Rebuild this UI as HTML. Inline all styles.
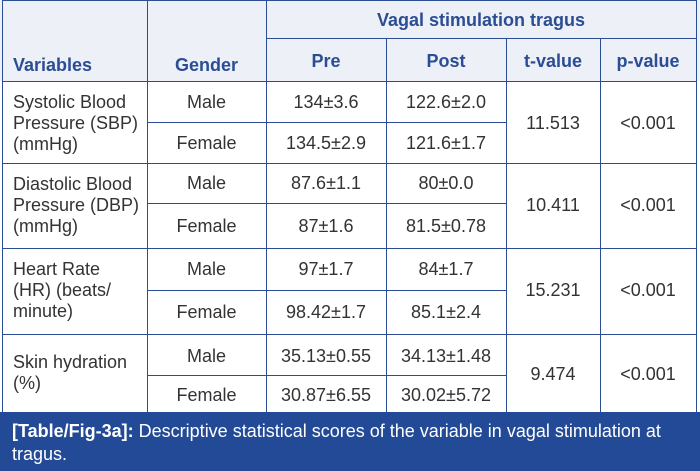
<!DOCTYPE html><html><head><style>
body{margin:0;width:700px;height:471px;background:#fff;position:relative;overflow:hidden;font-family:"Liberation Sans",Arial,sans-serif;}
.h{position:absolute;background:#2b4d93;}
.t{position:absolute;font-size:18px;color:#333;text-align:center;line-height:21px;}
.b{color:#2b4d93;font-weight:bold;}
</style></head><body>
<div style="position:absolute;left:0;top:0;width:700px;height:81px;background:#eef0f8"></div>
<div class="h" style="left:3px;top:0;width:694px;height:1px"></div>
<div class="h" style="left:266px;top:38px;width:431px;height:1px"></div>
<div class="h" style="left:3px;top:81px;width:694px;height:1px"></div>
<div class="h" style="left:147px;top:122px;width:359px;height:1px"></div>
<div class="h" style="left:3px;top:163px;width:694px;height:1px"></div>
<div class="h" style="left:147px;top:203px;width:359px;height:1px"></div>
<div class="h" style="left:3px;top:248px;width:694px;height:1px"></div>
<div class="h" style="left:147px;top:290px;width:359px;height:1px"></div>
<div class="h" style="left:3px;top:334px;width:694px;height:1px"></div>
<div class="h" style="left:147px;top:375px;width:359px;height:1px"></div>
<div class="h" style="left:2px;top:0;width:1px;height:412px"></div>
<div class="h" style="left:147px;top:0;width:1px;height:412px"></div>
<div class="h" style="left:266px;top:0;width:1px;height:412px"></div>
<div class="h" style="left:386px;top:38px;width:1px;height:374px"></div>
<div class="h" style="left:506px;top:38px;width:1px;height:374px"></div>
<div class="h" style="left:600px;top:38px;width:1px;height:374px"></div>
<div class="h" style="left:696px;top:0;width:1px;height:412px"></div>
<div class="t b" style="left:266px;top:10px;width:430px">Vagal stimulation tragus</div>
<div class="t b" style="left:13px;top:55px;text-align:left">Variables</div>
<div class="t b" style="left:147px;top:55px;width:119px">Gender</div>
<div class="t b" style="left:266px;top:51px;width:120px">Pre</div>
<div class="t b" style="left:386px;top:51px;width:120px">Post</div>
<div class="t b" style="left:506px;top:51px;width:94px">t-value</div>
<div class="t b" style="left:600px;top:51px;width:96px">p-value</div>
<div class="t" style="left:13px;top:92px;text-align:left">Systolic Blood<br>Pressure (SBP)<br>(mmHg)</div>
<div class="t" style="left:13px;top:174px;text-align:left">Diastolic Blood<br>Pressure (DBP)<br>(mmHg)</div>
<div class="t" style="left:13px;top:259px;text-align:left">Heart Rate<br>(HR) (beats/<br>minute)</div>
<div class="t" style="left:13px;top:352px;text-align:left">Skin hydration<br>(%)</div>
<div class="t" style="left:147px;top:92px;width:119px">Male</div>
<div class="t" style="left:147px;top:133px;width:119px">Female</div>
<div class="t" style="left:147px;top:173px;width:119px">Male</div>
<div class="t" style="left:147px;top:216px;width:119px">Female</div>
<div class="t" style="left:147px;top:259px;width:119px">Male</div>
<div class="t" style="left:147px;top:302px;width:119px">Female</div>
<div class="t" style="left:147px;top:346px;width:119px">Male</div>
<div class="t" style="left:147px;top:385px;width:119px">Female</div>
<div class="t" style="left:266px;top:92px;width:120px">134±3.6</div>
<div class="t" style="left:266px;top:133px;width:120px">134.5±2.9</div>
<div class="t" style="left:266px;top:173px;width:120px">87.6±1.1</div>
<div class="t" style="left:266px;top:216px;width:120px">87±1.6</div>
<div class="t" style="left:266px;top:259px;width:120px">97±1.7</div>
<div class="t" style="left:266px;top:302px;width:120px">98.42±1.7</div>
<div class="t" style="left:266px;top:346px;width:120px">35.13±0.55</div>
<div class="t" style="left:266px;top:385px;width:120px">30.87±6.55</div>
<div class="t" style="left:386px;top:92px;width:120px">122.6±2.0</div>
<div class="t" style="left:386px;top:133px;width:120px">121.6±1.7</div>
<div class="t" style="left:386px;top:173px;width:120px">80±0.0</div>
<div class="t" style="left:386px;top:216px;width:120px">81.5±0.78</div>
<div class="t" style="left:386px;top:259px;width:120px">84±1.7</div>
<div class="t" style="left:386px;top:302px;width:120px">85.1±2.4</div>
<div class="t" style="left:386px;top:346px;width:120px">34.13±1.48</div>
<div class="t" style="left:386px;top:385px;width:120px">30.02±5.72</div>
<div class="t" style="left:506px;top:113px;width:94px">11.513</div>
<div class="t" style="left:506px;top:195px;width:94px">10.411</div>
<div class="t" style="left:506px;top:280px;width:94px">15.231</div>
<div class="t" style="left:506px;top:364px;width:94px">9.474</div>
<div class="t" style="left:600px;top:113px;width:96px">&lt;0.001</div>
<div class="t" style="left:600px;top:195px;width:96px">&lt;0.001</div>
<div class="t" style="left:600px;top:280px;width:96px">&lt;0.001</div>
<div class="t" style="left:600px;top:364px;width:96px">&lt;0.001</div>
<div style="position:absolute;left:0;top:412px;width:700px;height:59px;background:#234a96"></div>
<div style="position:absolute;left:12px;top:420px;width:660px;font-size:18px;line-height:23px;color:#fff"><b>[Table/Fig-3a]:</b> Descriptive statistical scores of the variable in vagal stimulation at tragus.</div>
</body></html>
